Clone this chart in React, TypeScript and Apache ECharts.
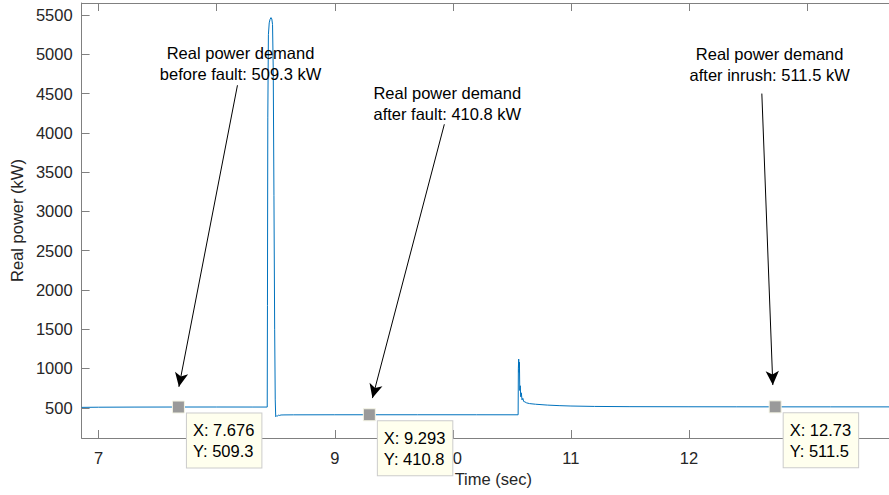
import React, { useEffect, useRef } from "react";
import * as echarts from "echarts";

// ---- data ----
const time = [
  6.857, 7.0, 7.3, 7.676, 8.0, 8.3, 8.428, 8.43, 8.433, 8.438, 8.445, 8.452, 8.46, 8.467, 8.473,
  8.479, 8.485, 8.491, 8.496, 8.5, 8.504, 8.509, 8.515, 8.522, 8.53, 8.545, 8.57, 8.65, 9.0, 9.293,
  9.7, 10.2, 10.553, 10.555, 10.558, 10.561, 10.564, 10.567, 10.571, 10.575, 10.58, 10.586, 10.593,
  10.6, 10.61, 10.625, 10.65, 10.7, 10.8, 10.9, 11.0, 11.2, 11.5, 12.0, 12.4, 12.73, 13.2, 13.83,
];
const power = [
  505, 507, 508.5, 509.3, 509.5, 509.2, 509, 1800, 4200, 5250, 5400, 5445, 5467, 5450, 5380,
  4800, 3200, 1500, 600, 385, 392, 400, 395, 405, 402, 408, 409, 410, 410.6, 410.8,
  410.8, 410.7, 410.5, 1000, 1120, 950, 1080, 720, 780, 640, 690, 600, 620,
  580, 575, 562, 553, 545, 534, 527, 522, 517, 514, 512.5, 512, 511.5, 511.3, 511,
];

const tipX = [7.676, 9.293, 12.73];
const tipY = [509.3, 410.8, 511.5];

const xTicks = [7, 8, 9, 10, 11, 12, 13];
const yTicks = [500, 1000, 1500, 2000, 2500, 3000, 3500, 4000, 4500, 5000, 5500];

const noteLines = [
  ["Real power demand", "before fault: 509.3 kW"],
  ["Real power demand", "after fault: 410.8 kW"],
  ["Real power demand", "after inrush: 511.5 kW"],
];
// annotation anchors in data units
const noteAt = [
  [8.202, 4886],
  [9.953, 4377],
  [12.683, 4869],
];
const arrowFrom = [
  [8.176, 4606],
  [9.928, 4109],
  [12.617, 4500],
];
const arrowTo = [
  [7.68, 767],
  [9.319, 623],
  [12.71, 789],
];

const X_MIN = 6.856;
const X_MAX = 13.694;
const Y_MIN = 115;
const Y_MAX = 5653;

const FONT = "'Liberation Sans', Arial, Helvetica, sans-serif";
const AXIS = "#808080";
const TXT = "#262626";
const FS = 16.5;

export default function App() {
  const ref = useRef<HTMLDivElement>(null);
  useEffect(() => {
    if (!ref.current) return;
    const chart = echarts.init(ref.current, undefined, { renderer: "svg" });
    const baseX = {
      type: "value" as const,
      min: X_MIN,
      max: X_MAX,
      axisLine: { show: true, onZero: false, lineStyle: { color: AXIS, width: 1 } },
      axisTick: { show: true, inside: true, length: 8, customValues: xTicks, lineStyle: { color: AXIS } },
      splitLine: { show: false },
    };
    chart.setOption({
      animation: false,
      backgroundColor: "#ffffff",
      textStyle: { fontFamily: FONT },
      grid: { left: 81, top: 3, right: 0, bottom: 57, containLabel: false },
      xAxis: [
        {
          ...baseX,
          position: "bottom",
          name: "Time (sec)",
          nameLocation: "middle",
          nameGap: 27,
          nameTextStyle: { fontSize: FS, color: TXT, fontFamily: FONT, padding: [0, 0, 0, 16] },
          axisLabel: {
            show: true,
            customValues: xTicks,
            formatter: (v: number) => String(v),
            margin: 11,
            fontSize: FS,
            color: TXT,
            fontFamily: FONT,
          },
        },
        {
          ...baseX,
          position: "top",
          axisLabel: { show: false },
        },
      ],
      yAxis: [
        {
          type: "value",
          min: Y_MIN,
          max: Y_MAX,
          position: "left",
          name: "Real power (kW)",
          nameLocation: "middle",
          nameGap: 54,
          nameTextStyle: { fontSize: FS, color: TXT, fontFamily: FONT },
          axisLine: { show: true, onZero: false, lineStyle: { color: AXIS, width: 1 } },
          axisTick: { show: true, inside: true, length: 8, customValues: yTicks, lineStyle: { color: AXIS } },
          axisLabel: {
            show: true,
            customValues: yTicks,
            formatter: (v: number) => String(v),
            margin: 9,
            fontSize: FS,
            color: TXT,
            fontFamily: FONT,
          },
          splitLine: { show: false },
        },
      ],
      series: [
        {
          type: "line",
          data: time.map((t, i) => [t, power[i]]),
          showSymbol: false,
          symbol: "none",
          silent: true,
          lineStyle: { color: "#0072BD", width: 1 },
          z: 2,
        },
        {
          type: "scatter",
          data: tipX.map((x, i) => [x, tipY[i]]),
          symbol: "rect",
          symbolSize: 12,
          silent: true,
          z: 5,
          itemStyle: { color: "#9a9a9a", borderColor: "#f4f4e4", borderWidth: 1, opacity: 1 },
          label: {
            show: true,
            position: [15, 13],
            align: "left",
            verticalAlign: "top",
            formatter: (p: any) => `X: ${p.value[0]}\nY: ${p.value[1]}`,
            backgroundColor: "#ffffee",
            borderColor: "#cccccc",
            borderWidth: 1,
            padding: [6, 7, 6, 6],
            fontSize: FS,
            lineHeight: 21,
            color: "#000000",
            fontFamily: FONT,
          },
          markLine: {
            silent: true,
            symbol: ["none", "arrow"],
            symbolSize: [10, 14],
            lineStyle: { color: "#000000", width: 1, type: "solid" },
            label: { show: false },
            data: arrowFrom.map((f, i) => [{ coord: f }, { coord: arrowTo[i] }]),
          },
          markPoint: {
            silent: true,
            symbol: "rect",
            symbolSize: 1,
            itemStyle: { color: "rgba(0,0,0,0)" },
            label: {
              show: true,
              position: "inside",
              align: "center",
              verticalAlign: "middle",
              formatter: (p: any) => noteLines[p.dataIndex].join("\n"),
              fontSize: FS,
              lineHeight: 21,
              color: "#000000",
              fontFamily: FONT,
            },
            data: noteAt.map((c) => ({ coord: c })),
          },
        },
      ],
    });
    return () => chart.dispose();
  }, []);
  return (
    <div
      ref={ref}
      style={{ position: "absolute", left: 0, top: 0, width: 889, height: 495, overflow: "hidden" }}
    />
  );
}
